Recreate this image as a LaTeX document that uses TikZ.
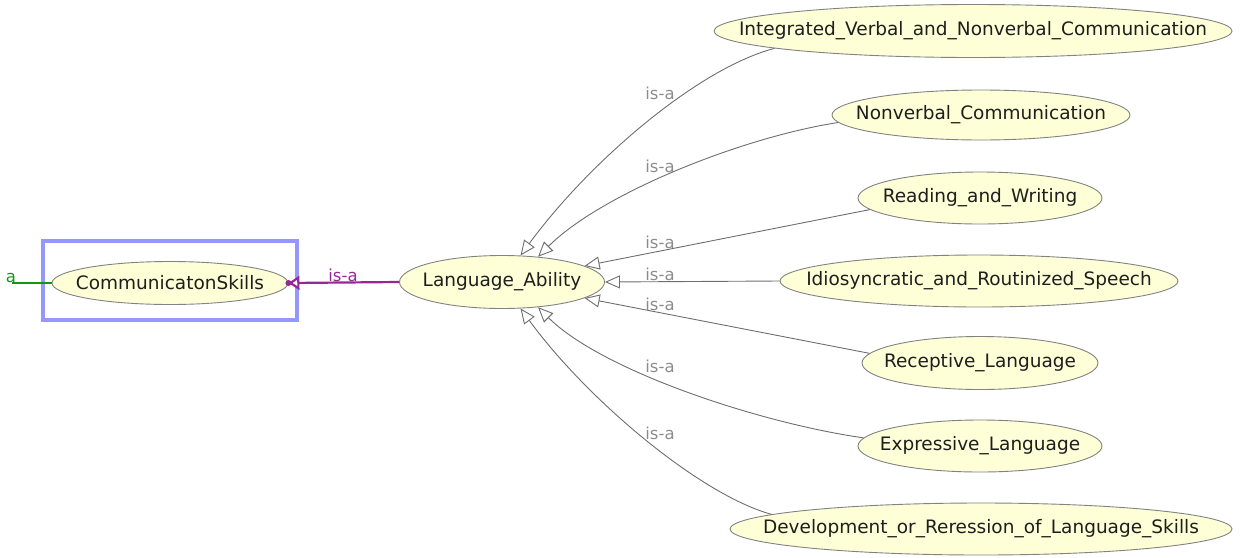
\documentclass[tikz,border=0pt]{standalone}
\usepackage{fontspec}
\setmainfont{DejaVu Sans}
\usetikzlibrary{shapes.geometric,arrows.meta}
\definecolor{nodefill}{RGB}{255,255,215}
\definecolor{nodeline}{RGB}{130,130,130}
\definecolor{edgegray}{RGB}{110,110,110}
\definecolor{labgray}{RGB}{140,140,140}
\definecolor{isapurple}{RGB}{150,40,150}
\definecolor{selblue}{RGB}{150,150,255}
\definecolor{isagreen}{RGB}{20,150,20}
\definecolor{txt}{RGB}{30,30,30}
\newcommand{\clstext}[1]{\makebox[0pt]{#1}}
\tikzset{
  cls/.style={ellipse, draw=nodeline, fill=nodefill, line width=0.9pt, inner sep=0pt,
    text=txt, font=\fontsize{18.5}{20}\selectfont},
  isa/.style={draw=edgegray, line width=0.9pt,
    -{Triangle[open, length=15pt, width=13pt, fill=white]}},
  isalab/.style={text=labgray, font=\fontsize{16.5}{18}\selectfont, inner sep=0pt},
}
\begin{document}
\begin{tikzpicture}[x=1pt, y=-1pt]
\useasboundingbox (0,0) rectangle (1249,557);
% selection box
\node[draw=selblue, line width=4pt, minimum width=254pt, minimum height=79pt, inner sep=0pt] (sel) at (170,280.5) {};
% nodes
\node[cls, minimum width=236pt, minimum height=43pt] (cs) at (170,283) {\clstext{CommunicatonSkills}};
\node[cls, minimum width=205pt, minimum height=53pt] (la) at (502,282) {\clstext{Language\_Ability}};
\node[cls, minimum width=518pt, minimum height=53pt] (ivn) at (973,31) {\clstext{Integrated\_Verbal\_and\_Nonverbal\_Communication}};
\node[cls, minimum width=298pt, minimum height=50pt] (nvc) at (981,115) {\clstext{Nonverbal\_Communication}};
\node[cls, minimum width=244pt, minimum height=52pt] (rw) at (980,198) {\clstext{Reading\_and\_Writing}};
\node[cls, minimum width=398pt, minimum height=52pt] (irs) at (979,281) {\clstext{Idiosyncratic\_and\_Routinized\_Speech}};
\node[cls, minimum width=236pt, minimum height=53pt] (rl) at (980,363) {\clstext{Receptive\_Language}};
\node[cls, minimum width=244pt, minimum height=52pt] (el) at (980,446) {\clstext{Expressive\_Language}};
\node[cls, minimum width=502pt, minimum height=52pt] (dl) at (981,529) {\clstext{Development\_or\_Reression\_of\_Language\_Skills}};
% green edge (cut off at the left)
\coordinate (gstart) at (12,283);
\draw[isagreen, line width=2.2pt] (gstart) -- (cs.west);
\node[text=isagreen, font=\fontsize{16.5}{18}\selectfont, inner sep=0pt] (glab) at (11,278) {a};
% purple edge
\draw[isapurple, line width=2.2pt, -{Triangle[open, length=11pt, width=14pt, line width=2.2pt, fill=white]}] (la.west) -- (cs.east);
\fill[isapurple] (cs.east) circle (3pt);
\node[text=isapurple, font=\fontsize{16.5}{18}\selectfont, inner sep=0pt] (plab) at (343,275) {is-a};
% is-a edges
\draw[isa] (ivn.185) .. controls +(-77,20) and +(68,-93) .. (la.55);
\draw[isa] (nvc.183) .. controls +(-97,15) and +(63,-63) .. (la.35);
\draw[isa] (rw.186) -- (la.11);
\draw[isa] (irs.west) -- (la.east);
\draw[isa] (rl.175) -- (la.-11);
\draw[isa] (el.176) .. controls +(-105,-15) and +(63,63) .. (la.-35);
\draw[isa] (dl.176) .. controls +(-70,-19) and +(68,93) .. (la.-55);
% labels
\node[isalab] (l1) at (660,93) {is-a};
\node[isalab] (l2) at (660,166) {is-a};
\node[isalab] (l3) at (660,242) {is-a};
\node[isalab] (l4) at (660,274) {is-a};
\node[isalab] (l5) at (660,304) {is-a};
\node[isalab] (l6) at (660,366) {is-a};
\node[isalab] (l7) at (660,433) {is-a};
\end{tikzpicture}
\end{document}
